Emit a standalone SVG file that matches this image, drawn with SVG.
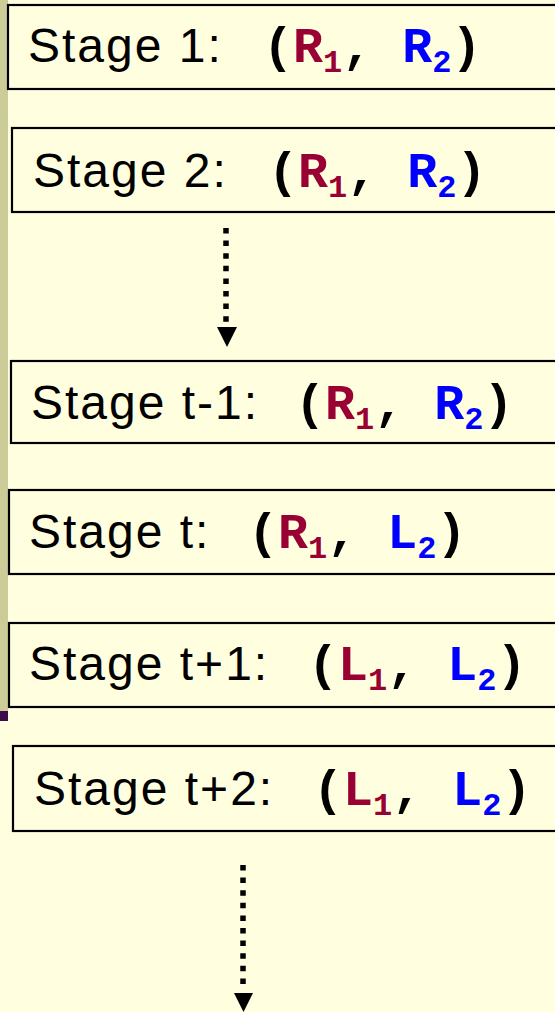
<svg xmlns="http://www.w3.org/2000/svg" width="555" height="1012" viewBox="0 0 555 1012">
<style>
.box{fill:none;stroke:#000;stroke-width:2.2}
.lbl{font-family:"Liberation Sans",Arial,sans-serif;font-size:48px;letter-spacing:2px;fill:#000}
.cd{font-family:"Courier New","Liberation Mono",monospace;font-weight:bold;font-size:50px;fill:#000}
.sub{font-size:32px}
.c1{fill:#990033}
.c2{fill:#0000FF}
.dots{stroke:#000;stroke-width:5.5;stroke-dasharray:5.5 7.1;fill:none}
</style>
<rect x="0" y="0" width="555" height="1012" fill="#FFFFE0"/>
<rect x="0" y="0" width="8" height="711" fill="#CCCC99"/>
<rect x="0" y="711" width="8" height="10" fill="#3D0A4A"/>

<g id="stage1">
<rect class="box" x="8" y="5" width="560" height="84"/>
<text class="lbl" x="28" y="62">Stage 1:</text>
<text class="cd" x="263" y="62">(<tspan class="c1">R</tspan><tspan class="c1 sub" dy="10">1</tspan><tspan dy="-10">, </tspan><tspan class="c2">R</tspan><tspan class="c2 sub" dy="10">2</tspan><tspan dy="-10">)</tspan></text>
</g>
<g id="stage2">
<rect class="box" x="12" y="128" width="560" height="84"/>
<text class="lbl" x="33" y="187">Stage 2:</text>
<text class="cd" x="268" y="187">(<tspan class="c1">R</tspan><tspan class="c1 sub" dy="10">1</tspan><tspan dy="-10">, </tspan><tspan class="c2">R</tspan><tspan class="c2 sub" dy="10">2</tspan><tspan dy="-10">)</tspan></text>
</g>
<g id="stage_t-1">
<rect class="box" x="11" y="361" width="560" height="82"/>
<text class="lbl" x="31" y="419">Stage t-1:</text>
<text class="cd" x="295" y="419">(<tspan class="c1">R</tspan><tspan class="c1 sub" dy="10">1</tspan><tspan dy="-10">, </tspan><tspan class="c2">R</tspan><tspan class="c2 sub" dy="10">2</tspan><tspan dy="-10">)</tspan></text>
</g>
<g id="stage_t">
<rect class="box" x="9" y="490" width="560" height="84"/>
<text class="lbl" x="29" y="548">Stage t:</text>
<text class="cd" x="248" y="548">(<tspan class="c1">R</tspan><tspan class="c1 sub" dy="10">1</tspan><tspan dy="-10">, </tspan><tspan class="c2">L</tspan><tspan class="c2 sub" dy="10">2</tspan><tspan dy="-10">)</tspan></text>
</g>
<g id="stage_t1">
<rect class="box" x="9" y="623" width="560" height="84"/>
<text class="lbl" x="29" y="680">Stage t+1:</text>
<text class="cd" x="308" y="680">(<tspan class="c1">L</tspan><tspan class="c1 sub" dy="10">1</tspan><tspan dy="-10">, </tspan><tspan class="c2">L</tspan><tspan class="c2 sub" dy="10">2</tspan><tspan dy="-10">)</tspan></text>
</g>
<g id="stage_t2">
<rect class="box" x="13" y="746" width="560" height="85"/>
<text class="lbl" x="34" y="805">Stage t+2:</text>
<text class="cd" x="313" y="805">(<tspan class="c1">L</tspan><tspan class="c1 sub" dy="10">1</tspan><tspan dy="-10">, </tspan><tspan class="c2">L</tspan><tspan class="c2 sub" dy="10">2</tspan><tspan dy="-10">)</tspan></text>
</g>

<g id="connectors">
<line class="dots" x1="226" y1="228" x2="226" y2="325"/>
<polygon points="217,327 237,327 227,347" fill="#000"/>
<line class="dots" x1="243" y1="865" x2="243" y2="990"/>
<polygon points="234,993 253,993 243.5,1012" fill="#000"/>
</g>
</svg>
